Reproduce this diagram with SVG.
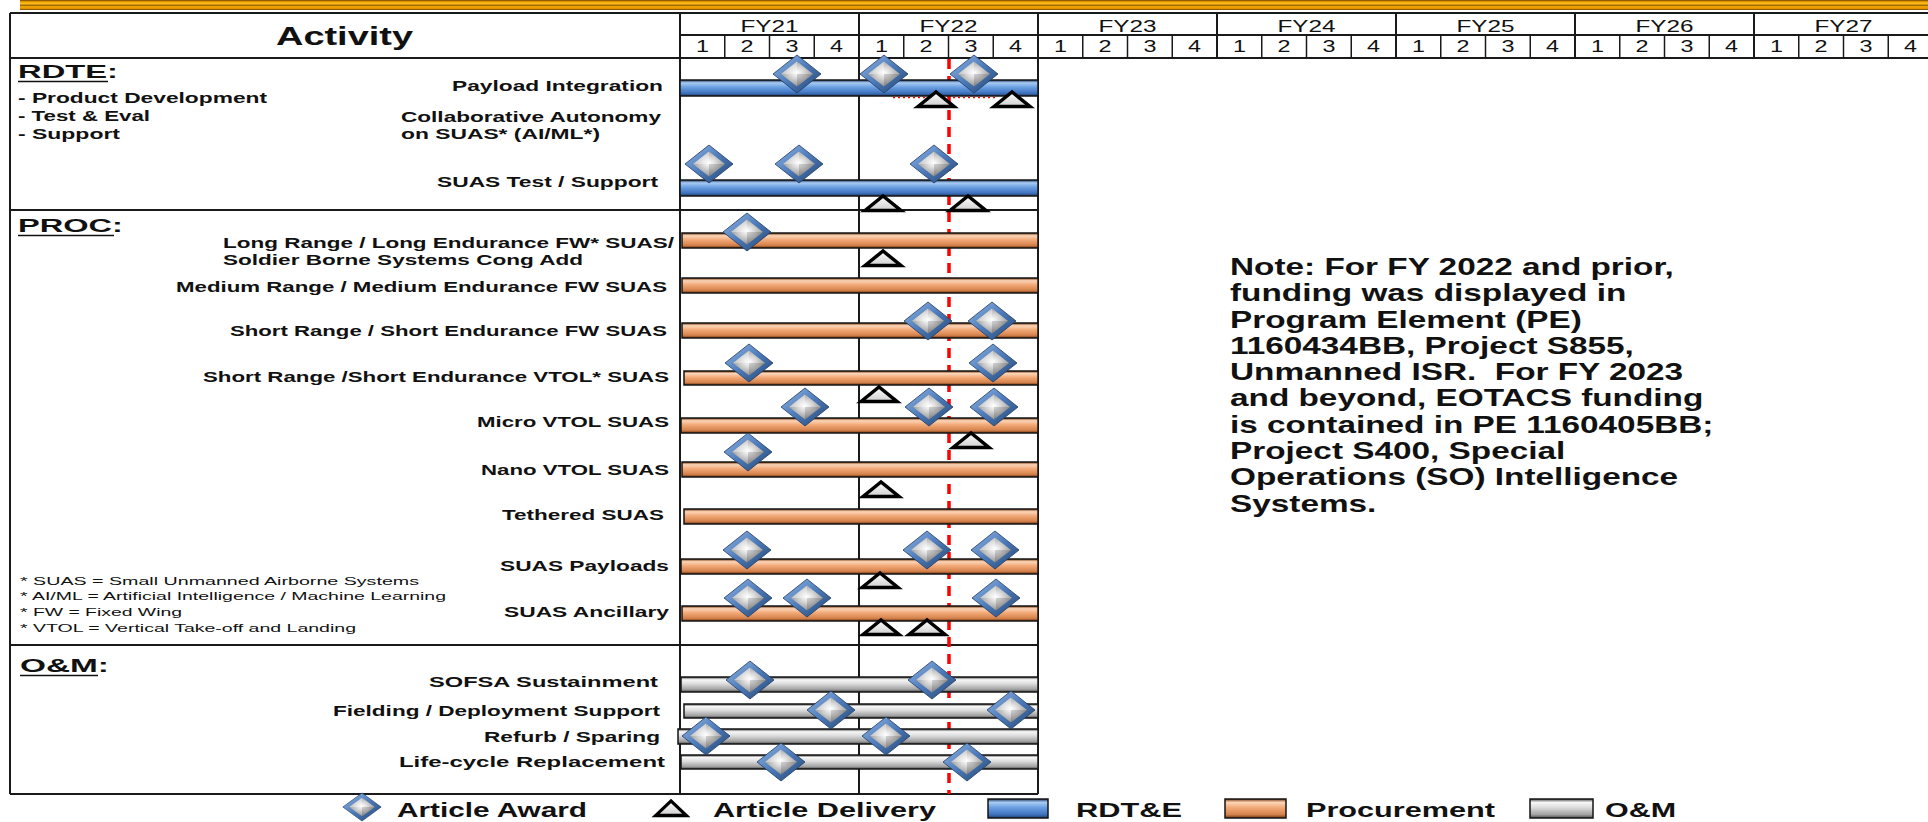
<svg xmlns="http://www.w3.org/2000/svg" width="1928" height="822" viewBox="0 0 1928 822">
<style>
text{font-family:"Liberation Sans",Arial,sans-serif;fill:#111}
.lbl{font-size:15px;font-weight:bold}
.sec{font-size:18.5px;font-weight:bold}
.fn{font-size:11px}
.hdr{font-size:17px}
.leg{font-size:21px;font-weight:bold}
.note{font-size:23px;font-weight:bold}
.grid{stroke:#1a1a1a;stroke-width:2;fill:none}
.thin{stroke:#1a1a1a;stroke-width:1.5;fill:none}
.bar{stroke:#151515;stroke-width:1.5}
.blue{fill:url(#gBlue)}
.orange{fill:url(#gOrange)}
.gray{fill:url(#gGray)}
.ul{stroke:#111;stroke-width:1.6}
</style>
<defs>
<linearGradient id="gTop" x1="0" y1="0" x2="0" y2="1">
<stop offset="0" stop-color="#6A4300"/><stop offset="0.18" stop-color="#F2A400"/><stop offset="0.4" stop-color="#FFC020"/><stop offset="0.52" stop-color="#8A5A00"/><stop offset="0.66" stop-color="#F5A800"/><stop offset="0.86" stop-color="#E09000"/><stop offset="1" stop-color="#6A4000"/>
</linearGradient>
<linearGradient id="gBlue" x1="0" y1="0" x2="0" y2="1">
<stop offset="0" stop-color="#1E3A66"/><stop offset="0.18" stop-color="#A9CBF2"/><stop offset="0.45" stop-color="#6A9FE2"/><stop offset="0.82" stop-color="#3F72BE"/><stop offset="1" stop-color="#1E3A66"/>
</linearGradient>
<linearGradient id="gOrange" x1="0" y1="0" x2="0" y2="1">
<stop offset="0" stop-color="#7A3A10"/><stop offset="0.18" stop-color="#FBD5B8"/><stop offset="0.45" stop-color="#F2AA78"/><stop offset="0.82" stop-color="#D5824C"/><stop offset="1" stop-color="#6E3410"/>
</linearGradient>
<linearGradient id="gGray" x1="0" y1="0" x2="0" y2="1">
<stop offset="0" stop-color="#4A4A4A"/><stop offset="0.18" stop-color="#F7F7F7"/><stop offset="0.45" stop-color="#DCDCDC"/><stop offset="0.82" stop-color="#A2A2A2"/><stop offset="1" stop-color="#4A4A4A"/>
</linearGradient>
<linearGradient id="gDiaOut" x1="0" y1="0" x2="1" y2="1">
<stop offset="0" stop-color="#94B8E6"/><stop offset="0.5" stop-color="#4C7AB9"/><stop offset="1" stop-color="#22446F"/>
</linearGradient>
<radialGradient id="gDiaIn" cx="0.5" cy="0.45" r="0.6">
<stop offset="0" stop-color="#FFFFFF"/><stop offset="0.35" stop-color="#DADADA"/><stop offset="0.8" stop-color="#A3A3A3"/><stop offset="1" stop-color="#7C7C7C"/>
</radialGradient>
<linearGradient id="gTri" x1="0" y1="0" x2="0" y2="1">
<stop offset="0" stop-color="#FFFFFF"/><stop offset="1" stop-color="#CFCFCF"/>
</linearGradient>
<g id="dia">
<polygon points="0,-19 24,0 0,19 -24,0" fill="url(#gDiaOut)" stroke="#1F3B66" stroke-width="0.8"/>
<polygon points="0,-12.5 16,0 0,12.5 -16,0" fill="url(#gDiaIn)"/>
<polygon points="0,-12.5 0,0 -16,0" fill="#FFFFFF" opacity="0.35"/>
<polygon points="0,0 16,0 0,12.5" fill="#000000" opacity="0.15"/>
</g>
<polygon id="tri" points="-18,7.5 0,-7 18,7.5" fill="url(#gTri)" stroke="#000" stroke-width="3.5"/>
</defs>

<rect x="0" y="0" width="1928" height="822" fill="#FFFFFF"/>
<rect x="20" y="0" width="1908" height="10" fill="url(#gTop)"/>

<g id="table-grid">
<line class="grid" x1="10" y1="13" x2="1928" y2="13"/>
<line class="grid" x1="680" y1="35" x2="1928" y2="35"/>
<line class="grid" x1="10" y1="58" x2="1928" y2="58"/>
<line class="grid" x1="10" y1="210" x2="1038" y2="210"/>
<line class="grid" x1="10" y1="645" x2="1038" y2="645"/>
<line class="grid" x1="10" y1="794" x2="1038" y2="794"/>
<line class="grid" x1="10" y1="13" x2="10" y2="794"/>
<line class="grid" x1="680" y1="13" x2="680" y2="794"/>
<line class="grid" x1="859" y1="13" x2="859" y2="794"/>
<line class="grid" x1="1038" y1="13" x2="1038" y2="794"/>
<line class="grid" x1="1217" y1="13" x2="1217" y2="58"/>
<line class="grid" x1="1396" y1="13" x2="1396" y2="58"/>
<line class="grid" x1="1575" y1="13" x2="1575" y2="58"/>
<line class="grid" x1="1754" y1="13" x2="1754" y2="58"/>
<g class="thin">
<line x1="724.75" y1="35" x2="724.75" y2="58"/><line x1="769.5" y1="35" x2="769.5" y2="58"/><line x1="814.25" y1="35" x2="814.25" y2="58"/>
<line x1="903.75" y1="35" x2="903.75" y2="58"/><line x1="948.5" y1="35" x2="948.5" y2="58"/><line x1="993.25" y1="35" x2="993.25" y2="58"/>
<line x1="1082.75" y1="35" x2="1082.75" y2="58"/><line x1="1127.5" y1="35" x2="1127.5" y2="58"/><line x1="1172.25" y1="35" x2="1172.25" y2="58"/>
<line x1="1261.75" y1="35" x2="1261.75" y2="58"/><line x1="1306.5" y1="35" x2="1306.5" y2="58"/><line x1="1351.25" y1="35" x2="1351.25" y2="58"/>
<line x1="1440.75" y1="35" x2="1440.75" y2="58"/><line x1="1485.5" y1="35" x2="1485.5" y2="58"/><line x1="1530.25" y1="35" x2="1530.25" y2="58"/>
<line x1="1619.75" y1="35" x2="1619.75" y2="58"/><line x1="1664.5" y1="35" x2="1664.5" y2="58"/><line x1="1709.25" y1="35" x2="1709.25" y2="58"/>
<line x1="1798.75" y1="35" x2="1798.75" y2="58"/><line x1="1843.5" y1="35" x2="1843.5" y2="58"/><line x1="1888.25" y1="35" x2="1888.25" y2="58"/>
</g>
</g>

<g id="header">
<text x="276" y="45" style="font-size:26px;font-weight:bold" textLength="137" lengthAdjust="spacingAndGlyphs">Activity</text>
<g>
<text class="hdr" x="740.5" y="32" textLength="58" lengthAdjust="spacingAndGlyphs">FY21</text>
<text class="hdr" x="919.5" y="32" textLength="58" lengthAdjust="spacingAndGlyphs">FY22</text>
<text class="hdr" x="1098.5" y="32" textLength="58" lengthAdjust="spacingAndGlyphs">FY23</text>
<text class="hdr" x="1277.5" y="32" textLength="58" lengthAdjust="spacingAndGlyphs">FY24</text>
<text class="hdr" x="1456.5" y="32" textLength="58" lengthAdjust="spacingAndGlyphs">FY25</text>
<text class="hdr" x="1635.5" y="32" textLength="58" lengthAdjust="spacingAndGlyphs">FY26</text>
<text class="hdr" x="1814.5" y="32" textLength="58" lengthAdjust="spacingAndGlyphs">FY27</text>
</g>
<g id="quarters">
<text class="hdr" x="695.9" y="52" textLength="13" lengthAdjust="spacingAndGlyphs">1</text>
<text class="hdr" x="740.6" y="52" textLength="13" lengthAdjust="spacingAndGlyphs">2</text>
<text class="hdr" x="785.4" y="52" textLength="13" lengthAdjust="spacingAndGlyphs">3</text>
<text class="hdr" x="830.1" y="52" textLength="13" lengthAdjust="spacingAndGlyphs">4</text>
<text class="hdr" x="874.9" y="52" textLength="13" lengthAdjust="spacingAndGlyphs">1</text>
<text class="hdr" x="919.6" y="52" textLength="13" lengthAdjust="spacingAndGlyphs">2</text>
<text class="hdr" x="964.4" y="52" textLength="13" lengthAdjust="spacingAndGlyphs">3</text>
<text class="hdr" x="1009.1" y="52" textLength="13" lengthAdjust="spacingAndGlyphs">4</text>
<text class="hdr" x="1053.9" y="52" textLength="13" lengthAdjust="spacingAndGlyphs">1</text>
<text class="hdr" x="1098.6" y="52" textLength="13" lengthAdjust="spacingAndGlyphs">2</text>
<text class="hdr" x="1143.4" y="52" textLength="13" lengthAdjust="spacingAndGlyphs">3</text>
<text class="hdr" x="1188.1" y="52" textLength="13" lengthAdjust="spacingAndGlyphs">4</text>
<text class="hdr" x="1232.9" y="52" textLength="13" lengthAdjust="spacingAndGlyphs">1</text>
<text class="hdr" x="1277.6" y="52" textLength="13" lengthAdjust="spacingAndGlyphs">2</text>
<text class="hdr" x="1322.4" y="52" textLength="13" lengthAdjust="spacingAndGlyphs">3</text>
<text class="hdr" x="1367.1" y="52" textLength="13" lengthAdjust="spacingAndGlyphs">4</text>
<text class="hdr" x="1411.9" y="52" textLength="13" lengthAdjust="spacingAndGlyphs">1</text>
<text class="hdr" x="1456.6" y="52" textLength="13" lengthAdjust="spacingAndGlyphs">2</text>
<text class="hdr" x="1501.4" y="52" textLength="13" lengthAdjust="spacingAndGlyphs">3</text>
<text class="hdr" x="1546.1" y="52" textLength="13" lengthAdjust="spacingAndGlyphs">4</text>
<text class="hdr" x="1590.9" y="52" textLength="13" lengthAdjust="spacingAndGlyphs">1</text>
<text class="hdr" x="1635.6" y="52" textLength="13" lengthAdjust="spacingAndGlyphs">2</text>
<text class="hdr" x="1680.4" y="52" textLength="13" lengthAdjust="spacingAndGlyphs">3</text>
<text class="hdr" x="1725.1" y="52" textLength="13" lengthAdjust="spacingAndGlyphs">4</text>
<text class="hdr" x="1769.9" y="52" textLength="13" lengthAdjust="spacingAndGlyphs">1</text>
<text class="hdr" x="1814.6" y="52" textLength="13" lengthAdjust="spacingAndGlyphs">2</text>
<text class="hdr" x="1859.4" y="52" textLength="13" lengthAdjust="spacingAndGlyphs">3</text>
<text class="hdr" x="1904.1" y="52" textLength="13" lengthAdjust="spacingAndGlyphs">4</text>
</g>
</g>

<g id="today-line">
<line x1="949" y1="59" x2="949" y2="794" stroke="#FF0000" stroke-width="3.5" stroke-dasharray="10 7"/>
</g>

<g id="section-rdte">
<text class="sec" x="18" y="78" textLength="100" lengthAdjust="spacingAndGlyphs">RDTE:</text>
<line class="ul" x1="18" y1="81.5" x2="108" y2="81.5"/>
<text class="lbl" x="18" y="103" textLength="249" lengthAdjust="spacingAndGlyphs">- Product Development</text>
<text class="lbl" x="18" y="121" textLength="132" lengthAdjust="spacingAndGlyphs">- Test &amp; Eval</text>
<text class="lbl" x="18" y="139" textLength="102" lengthAdjust="spacingAndGlyphs">- Support</text>
</g>
<g id="row-payload-integration">
<text class="lbl" x="452" y="91" textLength="211" lengthAdjust="spacingAndGlyphs">Payload Integration</text>
<rect class="bar blue" x="680" y="80" width="358" height="16"/>
</g>
<g id="row-collab-autonomy">
<text class="lbl" x="401" y="122" textLength="260" lengthAdjust="spacingAndGlyphs">Collaborative Autonomy</text>
<text class="lbl" x="401" y="139" textLength="199" lengthAdjust="spacingAndGlyphs">on SUAS* (AI/ML*)</text>
<line x1="893" y1="97.5" x2="998" y2="97.5" stroke="#FF0000" stroke-width="1.5" stroke-dasharray="2 3"/>
</g>
<g id="row-suas-test">
<text class="lbl" x="437" y="187" textLength="221" lengthAdjust="spacingAndGlyphs">SUAS Test / Support</text>
<rect class="bar blue" x="680" y="180" width="358" height="16"/>
</g>

<g id="section-proc">
<text class="sec" x="18" y="232" textLength="105" lengthAdjust="spacingAndGlyphs">PROC:</text>
<line class="ul" x1="18" y1="235.5" x2="114" y2="235.5"/>
</g>
<g id="row-long-range">
<text class="lbl" x="223" y="248" textLength="451" lengthAdjust="spacingAndGlyphs">Long Range / Long Endurance FW* SUAS/</text>
<text class="lbl" x="223" y="265" textLength="360" lengthAdjust="spacingAndGlyphs">Soldier Borne Systems Cong Add</text>
<rect class="bar orange" x="682" y="233" width="356" height="15"/>
</g>
<g id="row-medium-range">
<text class="lbl" x="176" y="292" textLength="491" lengthAdjust="spacingAndGlyphs">Medium Range / Medium Endurance FW SUAS</text>
<rect class="bar orange" x="682" y="278" width="356" height="15"/>
</g>
<g id="row-short-fw">
<text class="lbl" x="230" y="336" textLength="437" lengthAdjust="spacingAndGlyphs">Short Range / Short Endurance FW SUAS</text>
<rect class="bar orange" x="682" y="323" width="356" height="15"/>
</g>
<g id="row-short-vtol">
<text class="lbl" x="203" y="382" textLength="466" lengthAdjust="spacingAndGlyphs">Short Range /Short Endurance VTOL* SUAS</text>
<rect class="bar orange" x="684" y="371" width="354" height="14"/>
</g>
<g id="row-micro">
<text class="lbl" x="477" y="427" textLength="192" lengthAdjust="spacingAndGlyphs">Micro VTOL SUAS</text>
<rect class="bar orange" x="681" y="418" width="357" height="15"/>
</g>
<g id="row-nano">
<text class="lbl" x="481" y="475" textLength="188" lengthAdjust="spacingAndGlyphs">Nano VTOL SUAS</text>
<rect class="bar orange" x="682" y="462" width="356" height="15"/>
</g>
<g id="row-tethered">
<text class="lbl" x="502" y="520" textLength="162" lengthAdjust="spacingAndGlyphs">Tethered SUAS</text>
<rect class="bar orange" x="684" y="509" width="354" height="15"/>
</g>
<g id="row-payloads">
<text class="lbl" x="500" y="571" textLength="169" lengthAdjust="spacingAndGlyphs">SUAS Payloads</text>
<rect class="bar orange" x="681" y="559" width="357" height="15"/>
</g>
<g id="row-ancillary">
<text class="lbl" x="504" y="617" textLength="165" lengthAdjust="spacingAndGlyphs">SUAS Ancillary</text>
<rect class="bar orange" x="682" y="606" width="356" height="15"/>
</g>
<g id="footnotes">
<text class="fn" x="20" y="585" textLength="399" lengthAdjust="spacingAndGlyphs">* SUAS = Small Unmanned Airborne Systems</text>
<text class="fn" x="20" y="600" textLength="426" lengthAdjust="spacingAndGlyphs">* AI/ML = Artificial Intelligence / Machine Learning</text>
<text class="fn" x="20" y="616" textLength="162" lengthAdjust="spacingAndGlyphs">* FW = Fixed Wing</text>
<text class="fn" x="20" y="632" textLength="336" lengthAdjust="spacingAndGlyphs">* VTOL = Vertical Take-off and Landing</text>
</g>

<g id="section-om">
<text class="sec" x="20" y="672" textLength="89" lengthAdjust="spacingAndGlyphs">O&amp;M:</text>
<line class="ul" x1="20" y1="675.5" x2="98" y2="675.5"/>
</g>
<g id="row-sofsa">
<text class="lbl" x="429" y="687" textLength="229" lengthAdjust="spacingAndGlyphs">SOFSA Sustainment</text>
<rect class="bar gray" x="681" y="677" width="357" height="15"/>
</g>
<g id="row-fielding">
<text class="lbl" x="333" y="716" textLength="327" lengthAdjust="spacingAndGlyphs">Fielding / Deployment Support</text>
<rect class="bar gray" x="684" y="704" width="354" height="14"/>
</g>
<g id="row-refurb">
<text class="lbl" x="484" y="742" textLength="176" lengthAdjust="spacingAndGlyphs">Refurb / Sparing</text>
<rect class="bar gray" x="678" y="729" width="360" height="15"/>
</g>
<g id="row-lifecycle">
<text class="lbl" x="399" y="767" textLength="266" lengthAdjust="spacingAndGlyphs">Life-cycle Replacement</text>
<rect class="bar gray" x="681" y="755" width="357" height="14"/>
</g>

<g id="awards">
<use href="#dia" x="797" y="74"/><use href="#dia" x="884" y="74"/><use href="#dia" x="974" y="74"/>
<use href="#dia" x="709" y="164"/><use href="#dia" x="799" y="164"/><use href="#dia" x="934" y="164"/>
<use href="#dia" x="747" y="232"/>
<use href="#dia" x="928" y="321"/><use href="#dia" x="992" y="321"/>
<use href="#dia" x="749" y="363"/><use href="#dia" x="993" y="363"/>
<use href="#dia" x="805" y="407"/><use href="#dia" x="929" y="407"/><use href="#dia" x="994" y="407"/>
<use href="#dia" x="748" y="452"/>
<use href="#dia" x="747" y="550"/><use href="#dia" x="927" y="550"/><use href="#dia" x="995" y="550"/>
<use href="#dia" x="748" y="598"/><use href="#dia" x="807" y="598"/><use href="#dia" x="996" y="598"/>
<use href="#dia" x="750" y="680"/><use href="#dia" x="932" y="680"/>
<use href="#dia" x="831" y="710"/><use href="#dia" x="1011" y="710"/>
<use href="#dia" x="706" y="736"/><use href="#dia" x="886" y="736"/>
<use href="#dia" x="781" y="762"/><use href="#dia" x="967" y="762"/>
</g>

<g id="deliveries">
<use href="#tri" x="936" y="99"/><use href="#tri" x="1012" y="99"/>
<use href="#tri" x="883" y="203"/><use href="#tri" x="968" y="203"/>
<use href="#tri" x="883" y="258"/>
<use href="#tri" x="879" y="394"/>
<use href="#tri" x="971" y="440"/>
<use href="#tri" x="881" y="489"/>
<use href="#tri" x="880" y="580"/>
<use href="#tri" x="881" y="627"/><use href="#tri" x="927" y="627"/>
</g>

<g id="note">
<g transform="translate(1230 0) scale(1.45 1)">
<text class="note" x="0" y="275">Note: For FY 2022 and prior,</text>
<text class="note" x="0" y="301.3">funding was displayed in</text>
<text class="note" x="0" y="327.6">Program Element (PE)</text>
<text class="note" x="0" y="353.9">1160434BB, Project S855,</text>
<text class="note" x="0" y="380.2">Unmanned ISR.&#160; For FY 2023</text>
<text class="note" x="0" y="406.5">and beyond, EOTACS funding</text>
<text class="note" x="0" y="432.8">is contained in PE 1160405BB;</text>
<text class="note" x="0" y="459.1">Project S400, Special</text>
<text class="note" x="0" y="485.4">Operations (SO) Intelligence</text>
<text class="note" x="0" y="511.7">Systems.</text>
</g>
</g>

<g id="legend">
<use href="#dia" transform="translate(362 807) scale(0.8 0.74)"/>
<text class="leg" x="397" y="817" textLength="190" lengthAdjust="spacingAndGlyphs">Article Award</text>
<use href="#tri" transform="translate(671 808) scale(0.85 1)"/>
<text class="leg" x="713" y="817" textLength="223" lengthAdjust="spacingAndGlyphs">Article Delivery</text>
<rect class="bar blue" x="988" y="799" width="60" height="19"/>
<text class="leg" x="1076" y="817" textLength="106" lengthAdjust="spacingAndGlyphs">RDT&amp;E</text>
<rect class="bar orange" x="1225" y="799" width="61" height="19"/>
<text class="leg" x="1306" y="817" textLength="189" lengthAdjust="spacingAndGlyphs">Procurement</text>
<rect class="bar gray" x="1530" y="799" width="63" height="19"/>
<text class="leg" x="1605" y="817" textLength="71" lengthAdjust="spacingAndGlyphs">O&amp;M</text>
</g>
</svg>
